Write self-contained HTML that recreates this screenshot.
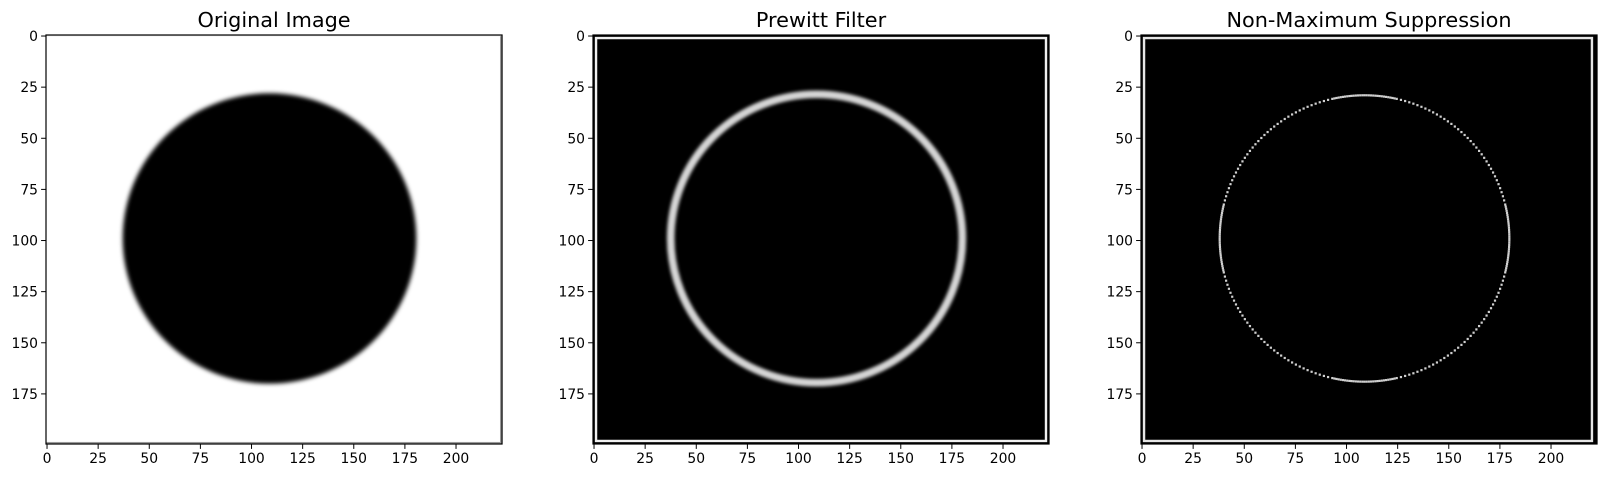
<!DOCTYPE html>
<html><head><meta charset="utf-8"><style>
html,body{margin:0;padding:0;background:#fff;}
svg{display:block;font-family:"DejaVu Sans","Liberation Sans",sans-serif;}
</style></head><body>
<svg id="fig" width="1606" height="478" viewBox="0 0 1606 478">
<defs>
<filter id="blur1" x="-20%" y="-20%" width="140%" height="140%"><feGaussianBlur stdDeviation="2.2"/></filter>
<filter id="blur2" x="-20%" y="-20%" width="140%" height="140%"><feGaussianBlur stdDeviation="1.6"/></filter>
</defs>
</svg>
<script>
const panelTitles = ["Original Image", "Prewitt Filter", "Non-Maximum Suppression"];
const panelLefts = [46, 593, 1141];
const imgRows = 200;
const imgCols = 223;
const xTicks = [0, 25, 50, 75, 100, 125, 150, 175, 200];
const yTicks = [0, 25, 50, 75, 100, 125, 150, 175];
const circleCenter = [108.8, 99];
const circleRadius = [71.8, 71];
const ringWidth = 5;

const NS = "http://www.w3.org/2000/svg";
const svg = document.getElementById("fig");
const TOP = 35, SC = 2.045, W = imgCols * SC, H = imgRows * SC;
function mk(tag, attrs, parent) {
  const e = document.createElementNS(NS, tag);
  for (const k in attrs) e.setAttribute(k, attrs[k]);
  (parent || svg).appendChild(e);
  return e;
}
function xs(L, v) { return L + (v + 0.5) * SC; }
function ys(v) { return TOP + (v + 0.5) * SC; }

panelLefts.forEach((L, i) => {
  const g = mk("g", {});
  
  
  const clipId = "clip" + i;
  const cp = mk("clipPath", { id: clipId }, g);
  mk("rect", { x: L, y: TOP, width: W, height: H }, cp);
  const img = mk("g", { "clip-path": "url(#" + clipId + ")" }, g);
  
  
  const cx = xs(L, circleCenter[0]), cy = ys(circleCenter[1]);
  const rx = circleRadius[0] * SC, ry = circleRadius[1] * SC;
  if (i === 0) {
    mk("rect", { x: L, y: TOP, width: W, height: H, fill: "#fff" }, img);
    const c = mk("ellipse", { cx, cy, rx, ry, fill: "#000", filter: "url(#blur1)" }, img);
    
    
    mk("rect", { x: xs(L, imgCols - 1) - SC / 2, y: TOP, width: SC, height: H, fill: "#9a9a9a" }, img);
    mk("rect", { x: L, y: ys(imgRows - 1) - SC / 2, width: W, height: SC, fill: "#9a9a9a" }, img);
    mk("rect", { x: L, y: TOP, width: W, height: 1.2, fill: "#ddd" }, img);
  } else {
    mk("rect", { x: L, y: TOP, width: W, height: H, fill: "#000" }, img);
    const fr = mk("rect", { x: xs(L, 1) - SC / 2 + 1, y: ys(1) - SC / 2 + 1, width: (imgCols - (i === 2 ? 3 : 2)) * SC - 2, height: (imgRows - 2) * SC - 2, fill: "none", stroke: i === 1 ? "#f0f0f0" : "#e6e6e6", "stroke-width": 2.4 }, img);
    
    
    if (i === 1) {
      const r = mk("ellipse", { cx, cy, rx: rx - 1, ry: ry - 1, fill: "none", stroke: "#d6d6d6", "stroke-width": ringWidth * SC * 0.75, filter: "url(#blur2)" }, img);
      
      
    } else {
      const n = 420;
      for (let k = 0; k < n; k++) {
        const a = k / n * 2 * Math.PI;
        const diag = Math.abs(Math.sin(2 * a));
        if (diag > 0.45 && k % 2 !== 0) continue;
        const px = cx + (rx - 2) * Math.cos(a), py = cy + (ry - 2) * Math.sin(a);
        const d = mk("rect", { x: px - 1.1, y: py - 1.1, width: 2.2, height: 2.2, fill: "#cfcfcf" }, img);
        
        
      }
    }
  }
  const frame = mk("rect", { x: L, y: TOP, width: W, height: H, fill: "none", stroke: "#000", "stroke-width": 1.2 }, g);
  
  
  const t = mk("text", { x: L + W / 2, y: 27, "text-anchor": "middle", "font-size": 20.8, fill: "#000" }, g);
  t.textContent = panelTitles[i];
  
  
  xTicks.forEach(v => {
    const x = xs(L, v);
    mk("line", { x1: x, x2: x, y1: TOP + H, y2: TOP + H + 4.9, stroke: "#000", "stroke-width": 1 }, g);
    const tx = mk("text", { x, y: TOP + H + 19, "text-anchor": "middle", "font-size": 13.9, fill: "#000" }, g);
    tx.textContent = v;
    
    
  });
  yTicks.forEach(v => {
    const y = ys(v);
    mk("line", { x1: L - 4.9, x2: L, y1: y, y2: y, stroke: "#000", "stroke-width": 1 }, g);
    const ty = mk("text", { x: L - 8, y: y + 5, "text-anchor": "end", "font-size": 13.9, fill: "#000" }, g);
    ty.textContent = v;
    
    
  });
});
</script>
</body></html>
